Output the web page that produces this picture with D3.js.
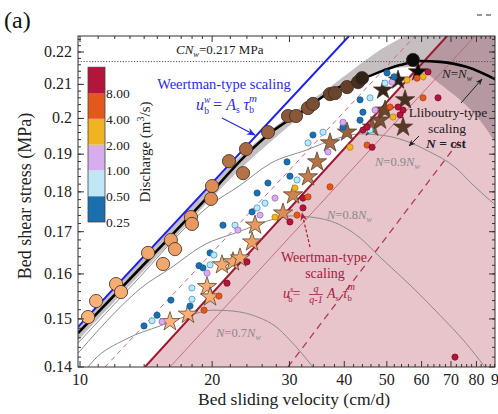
<!DOCTYPE html>
<html>
<head>
<meta charset="utf-8">
<script src="https://cdn.jsdelivr.net/npm/d3@7"></script>
<style>
  body { margin: 0; background: #fff; }
  svg { display: block; }
  text { font-family: "Liberation Serif", "Times New Roman", serif; }
</style>
</head>
<body>
<svg id="chart" width="498" height="414"></svg>
<script>
// ---------- axis ticks ----------
const velTicks = [10, 20, 30, 40, 50, 60, 70, 80, 90];
const velTickLabels = ["10", "20", "30", "40", "50", "60", "70", "80", "90"];
const velMinorTicks = [11, 12, 13, 14, 15, 16, 17, 18, 19, 22, 24, 26, 28, 32, 34, 36, 38,
  42, 44, 46, 48, 52, 54, 56, 58, 62, 64, 66, 68, 72, 74, 76, 78, 82, 84, 86, 88];
const tauTicks = [0.14, 0.15, 0.16, 0.17, 0.18, 0.19, 0.2, 0.21, 0.22];
const tauTickLabels = ["0.14", "0.15", "0.16", "0.17", "0.18", "0.19", "0.2", "0.21", "0.22"];

// ---------- discharge colour key ----------
const dischargeBreaks = [0.25, 0.5, 1, 2, 4, 8, 16];
const dischargeLabels = ["0.25", "0.50", "1.00", "2.00", "4.00", "8.00"];
const dischargeColors = ["#1b6fae", "#bfe7f6", "#d8adee", "#f0b321", "#e3581d", "#b3153b"];
const dischargeStrokes = ["#155a8e", "#3f9cc8", "#9a6cc0", "#b88410", "#b0400f", "#7e0d28"];

// ---------- model curves (velocity cm/d, stress MPa) ----------
const CNw = 0.217;
const weertmanVel = [9.9, 41.0];
const weertmanTau = [0.1483, 0.2251];
const nwCurveVel = [9.9, 14.44, 18.77, 24.13, 27.09, 31.71, 37.71, 45.07, 53.58, 59.50, 66.08, 76.13, 89.09];
const nwCurveTau = [0.1470, 0.1637, 0.1766, 0.1903, 0.1958, 0.2016, 0.2083, 0.2123, 0.2159, 0.2172, 0.2169, 0.2153, 0.2113];
const n09Vel = [9.9, 10.49, 13.63, 17.53, 19.68, 23.03, 27.24, 32.73, 38.91, 43.44, 48.24, 55.30, 62.70, 71.49, 78.55, 89.09];
const n09Tau = [0.1449, 0.1474, 0.1591, 0.1714, 0.1764, 0.1815, 0.1876, 0.1911, 0.1945, 0.1956, 0.1953, 0.1936, 0.1906, 0.1865, 0.1818, 0.1763];
const n08Vel = [9.9, 12.27, 13.77, 16.11, 19.16, 22.90, 27.24, 30.24, 33.59, 38.71, 43.44, 48.24, 56.46, 66.08, 75.33, 83.64];
const n08Tau = [0.1428, 0.1523, 0.1568, 0.1614, 0.1668, 0.1699, 0.1729, 0.1739, 0.1736, 0.1719, 0.1685, 0.1639, 0.1575, 0.1508, 0.1451, 0.14];
const n07Vel = [10.43, 10.71, 12.72, 15.22, 18.08, 20.09, 22.31, 25.71, 27.81, 30.08, 33.94];
const n07Tau = [0.14, 0.1412, 0.1457, 0.1485, 0.1510, 0.1519, 0.1517, 0.1502, 0.1485, 0.1455, 0.14];

// shaded uncertainty / Lliboutry region
const bandUpperVel = [9.9, 14.44, 24.39, 31.71, 37.11, 42.31, 48.24, 55.0];
const bandUpperTau = [0.1485, 0.1654, 0.1919, 0.2030, 0.2092, 0.2150, 0.2206, 0.2251];
const bandLowerVel = [89.09, 81.48, 73.39, 66.08, 61.08, 56.46, 50.84, 43.44, 37.11, 31.71, 24.39, 14.44, 9.9];
const bandLowerTau = [0.1925, 0.1995, 0.2054, 0.2101, 0.2138, 0.2153, 0.2147, 0.2119, 0.2074, 0.2004, 0.1884, 0.1623, 0.1455];

// sliding-law scaling lines
const slidingVel = [14.06, 68.56];
const slidingTau = [0.14, 0.2251];
const slidingLowVel = [11.40, 57.97];
const slidingLowTau = [0.14, 0.2251];
const slidingHighVel = [16.03, 79.38];
const slidingHighTau = [0.14, 0.2251];
const slidingDashVel = [29.77, 73.39];
const slidingDashTau = [0.14, 0.1939];

// ---------- observations ----------
// large circles: shade 0 = early (light), 1 = late (dark)
const circleVel = [10.43, 10.88, 12.08, 12.40, 14.29, 15.46, 16.11, 16.46, 17.90, 17.99, 19.99, 19.88, 21.85,
  23.52, 23.89, 26.81, 29.77, 31.05, 33.07, 33.94, 37.11, 38.10, 40.58, 42.99, 43.90, 57.35];
const circleTau = [0.1504, 0.1539, 0.1577, 0.1559, 0.1649, 0.1623, 0.1680, 0.1658, 0.1736, 0.1719, 0.1815, 0.1782, 0.1881,
  0.1849, 0.1914, 0.1961, 0.2007, 0.2007, 0.2030, 0.2042, 0.2071, 0.2074, 0.2092, 0.2107, 0.2119, 0.2175];
const circleShade = [0, 0.02, 0.05, 0.05, 0.1, 0.1, 0.15, 0.15, 0.2, 0.2, 0.3, 0.3, 0.45,
  0.45, 0.5, 0.55, 0.6, 0.6, 0.62, 0.65, 0.7, 0.7, 0.72, 0.8, 0.88, 1];

// stars
const starVel = [16.03, 17.62, 19.47, 19.78, 21.06, 22.31, 23.15, 24.66, 25.05, 29.00, 30.57, 33.07, 34.67,
  37.11, 40.58, 46.27, 48.24, 49.53, 49.01, 53.03, 55.01, 54.44, 58.89];
const starTau = [0.1494, 0.1510, 0.1571, 0.1548, 0.1621, 0.1628, 0.1637, 0.1675, 0.1716, 0.1746, 0.1792, 0.1839, 0.1879,
  0.1931, 0.1961, 0.1975, 0.1995, 0.2024, 0.2083, 0.2113, 0.2054, 0.1975, 0.2138];
const starShade = [0, 0.02, 0.05, 0.05, 0.08, 0.1, 0.1, 0.15, 0.2, 0.3, 0.35, 0.4, 0.45,
  0.5, 0.55, 0.6, 0.65, 0.7, 0.85, 0.9, 0.8, 0.75, 1];

// small dots coloured by discharge class (index into dischargeColors)
const dotVel = [13.99, 14.59, 14.98, 15.38, 16.11, 17.99, 17.99, 17.81, 18.67, 19.06, 19.78, 19.47, 19.17, 20.73, 21.62, 24.01,
  19.78, 20.19, 21.17, 22.55, 22.90, 24.66, 25.32, 25.71, 25.32, 26.39, 27.81, 26.80, 30.08, 31.22, 27.81, 30.08,
  31.22, 32.21, 29.62, 33.07, 36.72, 41.22, 30.89, 32.21, 33.07, 37.11, 45.07, 46.27, 33.94, 35.78, 39.73, 43.44,
  45.78, 43.44, 44.11, 39.73, 45.78, 46.99, 50.05, 51.38, 49.53, 51.92, 55.59, 54.44, 53.58, 51.65, 50.84, 60.45,
  65.40, 62.05, 58.57, 60.45, 53.03, 44.11, 45.07, 71.49];
const dotTau = [0.1485, 0.1496, 0.1508, 0.1494, 0.1541, 0.1568, 0.1543, 0.1528, 0.1619, 0.1614, 0.1621, 0.1602, 0.1519, 0.1550, 0.1579, 0.1628,
  0.1649, 0.1644, 0.1716, 0.1716, 0.1704, 0.1749, 0.1759, 0.1741, 0.1797, 0.1771, 0.1784, 0.1823, 0.1841, 0.1831, 0.1736, 0.1724,
  0.1741, 0.1759, 0.1879, 0.1931, 0.1906, 0.1919, 0.1810, 0.1784, 0.1787, 0.1813, 0.1925, 0.1919, 0.1953, 0.1961, 0.1975, 0.2054,
  0.2060, 0.1995, 0.2018, 0.1989, 0.1967, 0.2024, 0.2135, 0.2107, 0.2104, 0.2123, 0.2113, 0.2024, 0.2010, 0.2004, 0.2033, 0.2060,
  0.2060, 0.2138, 0.2119, 0.2123, 0.2033, 0.1967, 0.1975, 0.1420];
const dotClass = [0, 1, 0, 2, 0, 1, 1, 0, 0, 0, 1, 2, 4, 4, 5, 5,
  0, 1, 0, 1, 2, 0, 1, 2, 0, 1, 2, 0, 0, 1, 3, 5,
  4, 5, 0, 1, 2, 3, 3, 5, 4, 4, 4, 5, 0, 1, 0, 0,
  1, 0, 0, 2, 1, 2, 0, 2, 1, 0, 3, 5, 5, 3, 4, 4,
  5, 5, 4, 3, 5, 5, 5, 5];

// ---------- layout ----------
const svg = d3.select("#chart");
const frame = { left: 78, right: 495, top: 36, bottom: 367 };
const x = d3.scaleLog().domain([10, 90]).range([80, 498.9]);
const y = d3.scaleLog().domain([0.14, 0.22]).range([367, 52]);
const vLeft = x.invert(frame.left), vRight = x.invert(frame.right);
const tTop = y.invert(frame.top), tBot = y.invert(frame.bottom);

const zip = (vs, ts) => vs.map((v, i) => ({ v, t: ts[i] }));
const lineLin = d3.line().x(d => x(d.v)).y(d => y(d.t));
const lineMono = d3.line().x(d => x(d.v)).y(d => y(d.t)).curve(d3.curveMonotoneX);

const defs = svg.append("defs");
defs.append("clipPath").attr("id", "plotClip").append("rect")
  .attr("x", frame.left).attr("y", frame.top)
  .attr("width", frame.right - frame.left).attr("height", frame.bottom - frame.top);
function arrowMarker(id, color) {
  defs.append("marker").attr("id", id).attr("viewBox", "0 0 10 10")
    .attr("refX", 9).attr("refY", 5).attr("markerWidth", 7).attr("markerHeight", 7)
    .attr("orient", "auto-start-reverse")
    .append("path").attr("d", "M0,1 L10,5 L0,9 L3,5 Z").attr("fill", color);
}
arrowMarker("arrBlue", "#2b2bf0");
arrowMarker("arrRed", "#a5203c");
arrowMarker("arrBlack", "#222");

const plot = svg.append("g").attr("clip-path", "url(#plotClip)");

// pink Weertman-type (cavity) domain right of the sliding line
const pinkPoly = [
  { v: slidingVel[0], t: slidingTau[0] }, { v: slidingVel[1], t: slidingTau[1] },
  { v: vRight * 1.05, t: tTop * 1.01 }, { v: vRight * 1.05, t: tBot * 0.99 }
];
plot.append("path").attr("d", lineLin(pinkPoly) + "Z").attr("fill", "#e8c4cb");

// grey shaded band around N = Nw and Lliboutry-type region
const upperPath = lineMono(zip(bandUpperVel, bandUpperTau));
const lowerPath = lineMono(zip(bandLowerVel, bandLowerTau));
const cornerTR = lineLin([{ v: vRight * 1.05, t: tTop * 1.01 }, { v: vRight * 1.05, t: bandLowerTau[0] }]);
plot.append("path")
  .attr("d", upperPath + cornerTR.replace(/^M/, "L") + lowerPath.replace(/^M/, "L") + "Z")
  .attr("fill", "#5e4e54").attr("fill-opacity", 0.36);

// CN_w level
plot.append("line")
  .attr("x1", frame.left).attr("x2", frame.right)
  .attr("y1", y(CNw)).attr("y2", y(CNw))
  .attr("stroke", "#555").attr("stroke-width", 1).attr("stroke-dasharray", "1.2,1.6");

// scaling lines
plot.append("path").attr("d", lineLin(zip(slidingLowVel, slidingLowTau)))
  .attr("stroke", "#d06a80").attr("stroke-width", 1).attr("stroke-dasharray", "5,4").attr("fill", "none");
plot.append("path").attr("d", lineLin(zip(slidingHighVel, slidingHighTau)))
  .attr("stroke", "#b5606f").attr("stroke-width", 0.8).attr("fill", "none");
plot.append("path").attr("d", lineLin(zip(slidingDashVel, slidingDashTau)))
  .attr("stroke", "#b03a55").attr("stroke-width", 1.3).attr("stroke-dasharray", "7,5").attr("fill", "none");

// effective-pressure curves
[[n09Vel, n09Tau], [n08Vel, n08Tau], [n07Vel, n07Tau]].forEach(([vs, ts]) => {
  plot.append("path").attr("d", lineMono(zip(vs, ts)))
    .attr("stroke", "#8c8c8c").attr("stroke-width", 1).attr("fill", "none");
});
plot.append("path").attr("d", lineLin(zip(slidingVel, slidingTau)))
  .attr("stroke", "#a01830").attr("stroke-width", 2).attr("fill", "none");
plot.append("path").attr("d", lineLin(zip(weertmanVel, weertmanTau)))
  .attr("stroke", "#1f1ff5").attr("stroke-width", 2).attr("fill", "none");
plot.append("path").attr("d", lineMono(zip(nwCurveVel, nwCurveTau)))
  .attr("stroke", "#000").attr("stroke-width", 2.6).attr("fill", "none");

// observations
const shadeColor = d3.scaleLinear()
  .domain([0, 0.3, 0.55, 0.8, 1])
  .range(["#fbb47a", "#dc8c54", "#9a623f", "#4a3020", "#0b0b0b"]);

plot.append("g").selectAll("path").data(zip(starVel, starTau).map((d, i) => ({ ...d, s: starShade[i] })))
  .join("path")
  .attr("d", d3.symbol().type(d3.symbolStar).size(115))
  .attr("transform", d => `translate(${x(d.v)},${y(d.t)})`)
  .attr("fill", d => shadeColor(d.s)).attr("stroke", "#4a3525").attr("stroke-width", 0.7);

plot.append("g").selectAll("circle").data(zip(circleVel, circleTau).map((d, i) => ({ ...d, s: circleShade[i] })))
  .join("circle")
  .attr("cx", d => x(d.v)).attr("cy", d => y(d.t)).attr("r", 6.6)
  .attr("fill", d => shadeColor(d.s)).attr("stroke", "#3a2a20").attr("stroke-width", 0.8);

plot.append("g").selectAll("circle").data(zip(dotVel, dotTau).map((d, i) => ({ ...d, c: dotClass[i] })))
  .join("circle")
  .attr("cx", d => x(d.v)).attr("cy", d => y(d.t)).attr("r", 3.1)
  .attr("fill", d => dischargeColors[d.c]).attr("stroke", d => dischargeStrokes[d.c]).attr("stroke-width", 0.8);

// ---------- frame and ticks ----------
const axes = svg.append("g").attr("stroke", "#333").attr("stroke-width", 1);
axes.append("rect").attr("x", frame.left).attr("y", frame.top)
  .attr("width", frame.right - frame.left).attr("height", frame.bottom - frame.top)
  .attr("fill", "none");
function vTick(v, len) {
  const px = x(v);
  if (px < frame.left || px > frame.right) return;
  axes.append("line").attr("x1", px).attr("x2", px).attr("y1", frame.bottom).attr("y2", frame.bottom - len);
  axes.append("line").attr("x1", px).attr("x2", px).attr("y1", frame.top).attr("y2", frame.top + len);
}
function tTick(t, len) {
  const py = y(t);
  if (py < frame.top || py > frame.bottom) return;
  axes.append("line").attr("y1", py).attr("y2", py).attr("x1", frame.left).attr("x2", frame.left + len);
  axes.append("line").attr("y1", py).attr("y2", py).attr("x1", frame.right).attr("x2", frame.right - len);
}
velTicks.forEach(v => vTick(v, 6));
velMinorTicks.forEach(v => vTick(v, 3));
tauTicks.forEach(t => tTick(t, 6));
d3.range(0.142, tTop, 0.002).forEach(t => tTick(t, 3));

const lab = svg.append("g").attr("fill", "#222").attr("font-size", 16);
velTicks.forEach((v, i) => {
  lab.append("text").attr("x", x(v)).attr("y", frame.bottom + 18).attr("text-anchor", "middle").text(velTickLabels[i]);
});
tauTicks.forEach((t, i) => {
  lab.append("text").attr("x", frame.left - 6).attr("y", y(t) + 5).attr("text-anchor", "end").text(tauTickLabels[i]);
});
svg.append("text").attr("x", 294).attr("y", 405).attr("text-anchor", "middle")
  .attr("font-size", 17.5).attr("fill", "#222").text("Bed sliding velocity (cm/d)");
svg.append("text").attr("transform", "translate(31,196) rotate(-90)").attr("text-anchor", "middle")
  .attr("font-size", 18).attr("fill", "#222").text("Bed shear stress (MPa)");
svg.append("text").attr("x", 4).attr("y", 28).attr("font-size", 24).attr("fill", "#111").text("(a)");
svg.append("line").attr("x1", 477).attr("x2", 494).attr("y1", 15).attr("y2", 15)
  .attr("stroke", "#333").attr("stroke-width", 1.2).attr("stroke-dasharray", "5,4");

// ---------- discharge colour key ----------
const q = d3.scaleLog().domain([0.25, 8]).range([222, 93]);
const cbar = svg.append("g");
dischargeColors.forEach((c, i) => {
  cbar.append("rect").attr("x", 88).attr("width", 17)
    .attr("y", q(dischargeBreaks[i + 1])).attr("height", q(dischargeBreaks[i]) - q(dischargeBreaks[i + 1]))
    .attr("fill", c);
});
cbar.append("rect").attr("x", 88).attr("width", 17).attr("y", q(16)).attr("height", q(0.25) - q(16))
  .attr("fill", "none").attr("stroke", "#444").attr("stroke-width", 0.8);
dischargeLabels.forEach((l, i) => {
  cbar.append("text").attr("x", 106).attr("y", q(dischargeBreaks[i]) + 5).attr("font-size", 13.5)
    .attr("fill", "#222").text(l);
});
const dl = cbar.append("text").attr("transform", "translate(150,152) rotate(-90)").attr("text-anchor", "middle")
  .attr("font-size", 15).attr("fill", "#222");
dl.append("tspan").text("Discharge (m");
dl.append("tspan").attr("font-size", 10).attr("dy", -6).text("3");
dl.append("tspan").attr("dy", 6).text("/s)");

// ---------- annotations ----------
function rich(xp, yp, segs, attrs) {
  const t = svg.append("text").attr("x", xp).attr("y", yp);
  Object.entries(attrs).forEach(([k, v]) => t.attr(k, v));
  segs.forEach(s => {
    const ts = t.append("tspan").text(s.t);
    if (s.dx) ts.attr("dx", s.dx);
    if (s.dy) ts.attr("dy", s.dy);
    if (s.size) ts.attr("font-size", s.size);
    if (s.it) ts.attr("font-style", "italic");
  });
  return t;
}
rich(176, 54, [{ t: "CN", it: 1 }, { t: "w", size: 8.5, dy: 3, it: 1 }, { t: "=0.217 MPa", dy: -3 }],
  { "font-size": 13, fill: "#222" });

svg.append("text").attr("x", 224).attr("y", 89).attr("text-anchor", "middle")
  .attr("font-size", 14.5).attr("fill", "#2b2bf0").text("Weertman-type scaling");
rich(196, 110, [{ t: "u", it: 1 }, { t: "w", size: 9.5, dy: -7, it: 1 }, { t: "b", size: 9.5, dx: -6, dy: 11 },
  { t: " = ", dy: -4 }, { t: "A", it: 1 }, { t: "s", size: 9.5, dy: 3 }, { t: " τ", dy: -3, it: 1 },
  { t: "b", size: 9.5, dy: 3 }, { t: "m", size: 11, dx: -5, dy: -11, it: 1 }],
  { "font-size": 16, fill: "#2b2bf0" });
svg.append("line").attr("x1", 222).attr("y1", 118).attr("x2", 255).attr("y2", 135)
  .attr("stroke", "#2b2bf0").attr("stroke-width", 1.3).attr("marker-end", "url(#arrBlue)");

svg.append("text").attr("x", 324).attr("y", 262).attr("text-anchor", "middle")
  .attr("font-size", 14).attr("fill", "#a5203c").text("Weertman-type");
svg.append("text").attr("x", 325).attr("y", 278).attr("text-anchor", "middle")
  .attr("font-size", 14).attr("fill", "#a5203c").text("scaling");
svg.append("line").attr("x1", 310).attr("y1", 247).attr("x2", 302).attr("y2", 213)
  .attr("stroke", "#a5203c").attr("stroke-width", 1.2).attr("stroke-dasharray", "3,2")
  .attr("marker-end", "url(#arrRed)");
const rf = svg.append("g").attr("fill", "#a5203c");
rich(283, 298, [{ t: "u", it: 1 }, { t: "s", size: 8.5, dy: -6, it: 1 }, { t: "b", size: 8.5, dx: -5, dy: 10 },
  { t: "=", dy: -4 }], { "font-size": 14, fill: "#a5203c" });
rf.append("text").attr("x", 316).attr("y", 292).attr("font-size", 10).attr("font-style", "italic")
  .attr("text-anchor", "middle").text("q");
rf.append("line").attr("x1", 309).attr("x2", 323).attr("y1", 294.5).attr("y2", 294.5)
  .attr("stroke", "#a5203c").attr("stroke-width", 0.8);
rf.append("text").attr("x", 316).attr("y", 303).attr("font-size", 10).attr("font-style", "italic")
  .attr("text-anchor", "middle").text("q-1");
rich(327, 298, [{ t: "A", it: 1 }, { t: "s", size: 8.5, dy: 3 }, { t: " τ", dy: -3, it: 1 },
  { t: "b", size: 8.5, dy: 3 }, { t: "m", size: 10, dx: -4, dy: -11, it: 1 }],
  { "font-size": 14, fill: "#a5203c" });

const greyLab = { "font-size": 12.5, fill: "#8a8a8a" };
rich(375, 166, [{ t: "N", it: 1 }, { t: "=0.9" }, { t: "N", it: 1 }, { t: "w", size: 8, dy: 3, it: 1 }], greyLab);
rich(327, 219, [{ t: "N", it: 1 }, { t: "=0.8" }, { t: "N", it: 1 }, { t: "w", size: 8, dy: 3, it: 1 }], greyLab);
rich(216, 337, [{ t: "N", it: 1 }, { t: "=0.7" }, { t: "N", it: 1 }, { t: "w", size: 8, dy: 3, it: 1 }], greyLab);

rich(442, 78, [{ t: "N", it: 1 }, { t: "=" }, { t: "N", it: 1 }, { t: "w", size: 8, dy: 3, it: 1 }],
  { "font-size": 13, fill: "#222" });
svg.append("line").attr("x1", 461).attr("y1", 103).attr("x2", 482).attr("y2", 79)
  .attr("stroke", "#222").attr("stroke-width", 1).attr("marker-end", "url(#arrBlack)");
svg.append("text").attr("x", 448).attr("y", 117).attr("text-anchor", "middle")
  .attr("font-size", 13.5).attr("fill", "#222").text("Lliboutry-type");
svg.append("text").attr("x", 447).attr("y", 133).attr("text-anchor", "middle")
  .attr("font-size", 13.5).attr("fill", "#222").text("scaling");
rich(426, 148, [{ t: "N", it: 1 }, { t: " = cst" }], { "font-size": 13.5, fill: "#222", "font-weight": "bold" });
svg.append("line").attr("x1", 419).attr("y1", 136).attr("x2", 409).attr("y2", 146)
  .attr("stroke", "#222").attr("stroke-width", 1).attr("marker-end", "url(#arrBlack)");
</script>
</body>
</html>
